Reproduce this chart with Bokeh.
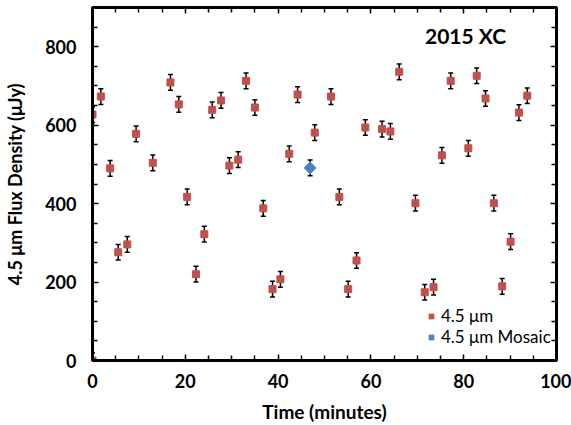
import math
from bokeh.plotting import figure
from bokeh.models import (LinearAxis, FixedTicker, Whisker, ColumnDataSource, Legend,
                          LegendItem, Label, Range1d, TeeHead)
from bokeh.embed import file_html
from bokeh.resources import INLINE

# ---- data ----
time_min = [0.0, 0.0, 1.8, 3.8, 5.55, 7.5, 9.4, 13.0, 16.8, 18.6, 20.4, 22.3, 24.1,
            25.8, 27.7, 29.5, 31.4, 33.1, 35.0, 36.8, 38.8, 40.5, 42.4, 44.2,
            47.9, 51.4, 53.2, 55.1, 56.9, 58.8, 62.4, 64.2, 66.1, 69.6, 71.6,
            73.5, 75.3, 77.2, 81.0, 82.8, 84.7, 86.5, 88.3, 90.1, 91.9, 93.7]
flux = [0, 627, 673, 490, 276, 296, 578, 504, 709, 653, 417, 220, 322,
        639, 663, 497, 512, 713, 645, 388, 182, 207, 527, 678,
        581, 673, 417, 182, 255, 594, 590, 584, 736, 401, 174,
        187, 523, 713, 541, 726, 668, 401, 189, 303, 632, 675]
flux_err = [20, 20, 20, 20, 20, 20, 20, 20, 20, 20, 20, 20, 20,
            20, 20, 20, 20, 20, 20, 20, 20, 20, 20, 20,
            20, 20, 20, 20, 20, 20, 20, 20, 20, 20, 20,
            20, 20, 20, 20, 20, 20, 20, 20, 20, 20, 20]
mosaic_time = [46.9]
mosaic_flux = [491]
mosaic_err = [20]

x_major = [0, 20, 40, 60, 80, 100]
x_minor = [5, 10, 15, 25, 30, 35, 45, 50, 55, 65, 70, 75, 85, 90, 95]
y_major = [0, 200, 400, 600, 800]
y_minor = [50, 100, 150, 250, 300, 350, 450, 500, 550, 650, 700, 750, 850, 900]

FONT = "Lato"
RED = "#C0504D"
BLUE = "#4F81BD"

src = ColumnDataSource(dict(t=time_min, f=flux,
                            lo=[a - b for a, b in zip(flux, flux_err)],
                            hi=[a + b for a, b in zip(flux, flux_err)]))
msrc = ColumnDataSource(dict(t=mosaic_time, f=mosaic_flux,
                             lo=[a - b for a, b in zip(mosaic_flux, mosaic_err)],
                             hi=[a + b for a, b in zip(mosaic_flux, mosaic_err)]))

p = figure(width=571, height=425, x_range=Range1d(0, 100), y_range=Range1d(0, 900),
           output_backend="svg", toolbar_location=None,
           min_border_left=92, min_border_right=15, min_border_top=7, min_border_bottom=64,
           x_axis_label="Time (minutes)", y_axis_label="4.5 μm Flux Density (μJy)")
p.xgrid.visible = False
p.ygrid.visible = False
p.outline_line_color = "black"
p.outline_line_width = 3
p.background_fill_color = "white"
p.border_fill_color = "white"

xt = FixedTicker(ticks=x_major, minor_ticks=x_minor)
yt = FixedTicker(ticks=y_major, minor_ticks=y_minor)


def style(ax, labels=True):
    ax.axis_line_color = "black"
    ax.axis_line_width = 3
    ax.major_tick_line_color = "black"
    ax.major_tick_line_width = 1.5
    ax.minor_tick_line_color = "black"
    ax.minor_tick_line_width = 1.5
    ax.major_tick_out = 0
    ax.major_tick_in = 6
    ax.minor_tick_out = 0
    ax.minor_tick_in = 5
    if labels:
        ax.major_label_text_font = FONT
        ax.major_label_text_font_style = "bold"
        ax.major_label_text_font_size = "18px"
        ax.major_label_text_color = "black"
        ax.axis_label_text_font = FONT
        ax.axis_label_text_font_style = "bold"
        ax.axis_label_text_font_size = "18px"
        ax.axis_label_text_color = "black"
    else:
        ax.major_label_text_font_size = "0px"
        ax.major_label_standoff = 0
        ax.major_label_text_color = None


p.xaxis[0].ticker = xt
p.yaxis[0].ticker = yt
style(p.xaxis[0])
style(p.yaxis[0])
p.xaxis[0].axis_label_text_font_size = "19px"
p.xaxis[0].major_label_standoff = 13
p.xaxis[0].axis_label_standoff = 9
p.yaxis[0].major_label_standoff = 16
p.yaxis[0].axis_label_standoff = 16

top = LinearAxis(ticker=xt)
style(top, labels=False)
p.add_layout(top, "above")
right = LinearAxis(ticker=yt)
style(right, labels=False)
p.add_layout(right, "right")

for s in (src, msrc):
    w = Whisker(source=s, base="t", upper="hi", lower="lo", dimension="height",
                line_color="black", line_width=1.5, level="underlay",
                upper_head=TeeHead(size=5, line_color="black", line_width=1.5),
                lower_head=TeeHead(size=5, line_color="black", line_width=1.5))
    p.add_layout(w)

r_sq = p.scatter("t", "f", source=src, marker="square", size=7,
                 fill_color=RED, line_color=RED)
r_dia = p.scatter("t", "f", source=msrc, marker="square", size=8.5, angle=math.pi / 4,
                  fill_color=BLUE, line_color=BLUE)

legend = Legend(items=[LegendItem(label="4.5 μm", renderers=[r_sq]),
                       LegendItem(label="4.5 μm Mosaic", renderers=[r_dia])],
                location=(333, 13), padding=0, margin=0, spacing=0,
                glyph_width=12, glyph_height=16, label_height=16, label_standoff=4,
                label_text_font=FONT, label_text_font_size="17px", label_text_color="black",
                background_fill_alpha=0, border_line_color=None)
p.add_layout(legend, "center")

p.add_layout(Label(x=80.4, y=828, text="2015 XC", text_align="center",
                   text_baseline="middle", text_font=FONT, text_font_style="bold",
                   text_font_size="21px", text_color="black"))

open("out.html", "w").write(file_html(p, INLINE))
